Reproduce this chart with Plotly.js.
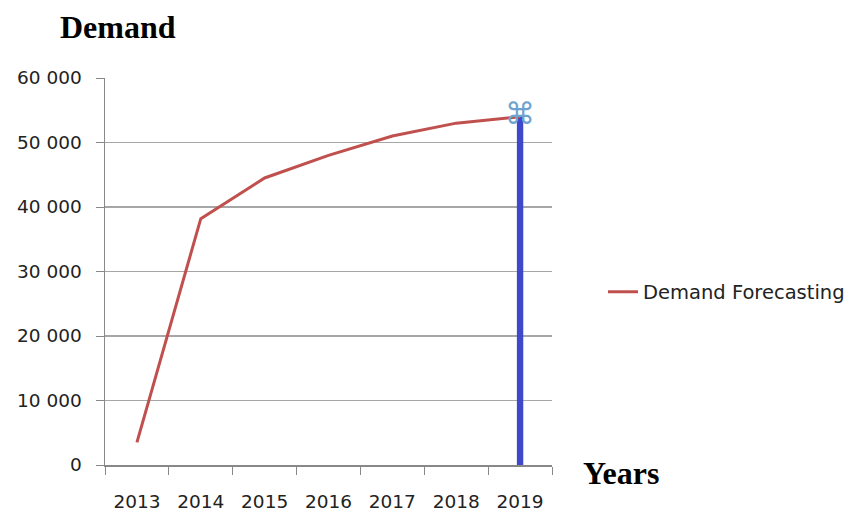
<!DOCTYPE html>
<html><head><meta charset="utf-8">
<script src="https://cdn.plot.ly/plotly-3.0.1.min.js"></script>
<style>html,body{margin:0;padding:0;background:#fff}#c{width:845px;height:512px}</style>
</head><body><div id="c"></div>
<script>
const years = ['2013','2014','2015','2016','2017','2018','2019'];
const demand = [3500, 38200, 44500, 48000, 51000, 53000, 54000];
const seriesName = 'Demand Forecasting';
const markerYear = ['2019'];
const markerValue = [54000];
const yTicks = [0, 10000, 20000, 30000, 40000, 50000, 60000];

const tickFont = {family: 'DejaVu Sans', size: 18.5, color: '#222'};
const traces = [
  {type: 'scatter', mode: 'lines', x: years, y: demand, name: seriesName,
   line: {color: '#c0504d', width: 3}},
  {type: 'bar', x: markerYear, y: markerValue, width: 0.1, marker: {color: '#3f48cc'},
   showlegend: false, hoverinfo: 'skip'},
  {type: 'scatter', mode: 'text', x: markerYear, y: markerValue, text: ['⌘'],
   textposition: 'middle center', showlegend: false, hoverinfo: 'skip',
   textfont: {family: 'DejaVu Sans', size: 30, color: '#6fa3cf'}}
];
const layout = {
  width: 845, height: 512, paper_bgcolor: '#fff', plot_bgcolor: '#fff',
  margin: {l: 105, r: 293, t: 78, b: 47, autoexpand: false},
  separators: '. ',
  showlegend: true,
  title: {text: 'Demand', x: 60/845, xanchor: 'left', y: 1 - 27/512, yanchor: 'middle',
          font: {family: 'Liberation Serif', size: 32, color: '#000', weight: 'bold'}},
  xaxis: {type: 'category', categoryorder: 'array', categoryarray: years, range: [-0.5, 6.5],
          tickson: 'boundaries', ticks: 'outside', ticklen: 8, tickcolor: '#888',
          showline: true, linecolor: '#888', linewidth: 1.5, showgrid: false, tickfont: tickFont,
          ticklabelstandoff: 19, automargin: false, fixedrange: true},
  yaxis: {range: [0, 60000], tickvals: yTicks, tickformat: ',.0f', ticks: 'outside', ticklen: 8,
          tickcolor: '#888', showline: true, linecolor: '#888', linewidth: 1.5,
          gridcolor: '#a6a6a6', gridwidth: 1.5, tickfont: tickFont, zeroline: false,
          ticklabelstandoff: 10, automargin: false, fixedrange: true},
  legend: {xref: 'container', yref: 'container', x: 603/845, y: 1 - 292/512,
           xanchor: 'left', yanchor: 'middle',
           font: {family: 'DejaVu Sans', size: 19.5, color: '#222'}},
  annotations: [{text: '<b>Years</b>', xref: 'paper', yref: 'paper', x: (581-105)/447, y: (465-473)/387,
                 xanchor: 'left', yanchor: 'middle', showarrow: false,
                 font: {family: 'Liberation Serif', size: 32, color: '#000'}}]
};
Plotly.newPlot('c', traces, layout, {displayModeBar: false, staticPlot: true});
</script></body></html>
